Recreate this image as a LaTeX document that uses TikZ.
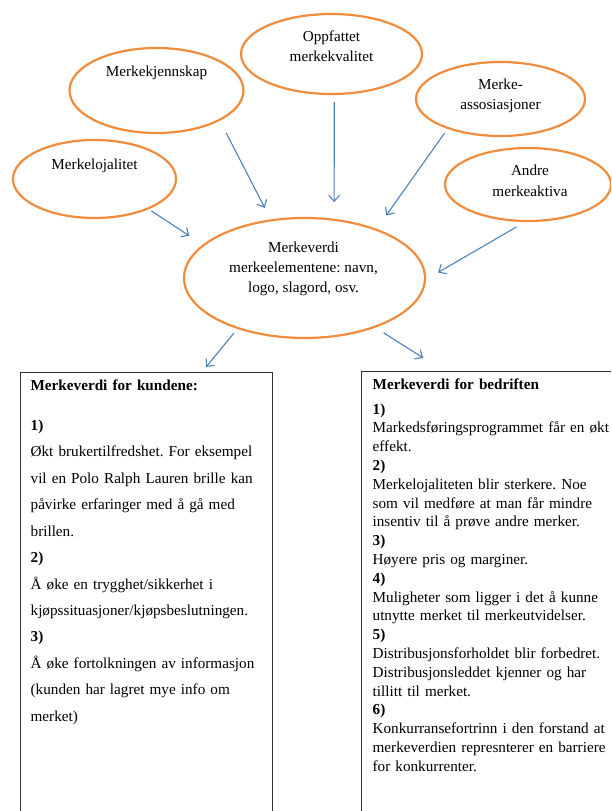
\documentclass[tikz,border=0pt]{standalone}
\usepackage{fontspec}
\setmainfont{Liberation Serif}
\frenchspacing
\usetikzlibrary{shapes.geometric,arrows.meta}
\definecolor{ringorange}{RGB}{240,140,60}
\definecolor{arrowblue}{RGB}{79,129,189}
\tikzset{
  bubble/.style={ellipse, draw=ringorange, line width=2.2pt, inner sep=0pt, outer sep=0pt},
  bubbletext/.style={align=center, font=\fontsize{15.2}{20.3}\selectfont},
  flow/.style={-{Straight Barb[length=6pt,width=11pt]}, draw=arrowblue, line width=1.1pt},
  infobox/.style={draw=black!80, line width=1.3pt, anchor=north west, align=left,
    inner xsep=10pt, inner ysep=7pt, text depth=440pt}
}
\begin{document}
\begin{tikzpicture}[x=1pt, y=-1pt]
  % Page frame, the boxes run off the bottom and the right edge.
  \useasboundingbox (0,0) rectangle (611,811);
  \clip (0,0) rectangle (611,811);
  \fill[white] (0,0) rectangle (611,811);

  % The five brand assets around the centre.
  \node[bubble, minimum width=163pt, minimum height=78pt] (lojal) at (94.5,179) {};
  \node[bubble, minimum width=174pt, minimum height=85pt] (kjenn) at (156.5,90.5) {};
  \node[bubble, minimum width=181pt, minimum height=80pt] (kval) at (331.5,54) {};
  \node[bubble, minimum width=169pt, minimum height=74pt] (assos) at (500.5,99) {};
  \node[bubble, minimum width=166pt, minimum height=73pt] (andre) at (528,184.5) {};
  \node[bubble, minimum width=241pt, minimum height=120pt] (verdi) at (304.5,278) {};

  % Texts sit in the upper part of the ellipses.
  \node[bubbletext] (lojaltxt) at (94.5,166) {Merkelojalitet};
  \node[bubbletext] (kjenntxt) at (156.5,73) {Merkekjennskap};
  \node[bubbletext] (kvaltxt) at (331.5,46.2) {Oppfattet\\merkekvalitet};
  \node[bubbletext] (assostxt) at (500.5,96) {Merke-\\assosiasjoner};
  \node[bubbletext] (andretxt) at (530,180.7) {Andre\\merkeaktiva};
  \node[bubbletext] (verditxt) at (303.5,269) {Merkeverdi\\merkeelementene: navn,\\logo, slagord, osv.};

  % Arrows into the centre ellipse.
  \draw[flow, shorten <=4.3pt, shorten >=17.1pt] (lojal.-29.2) -- (verdi.162.1);
  \draw[flow, shorten <=14.7pt, shorten >=14pt] (kjenn.-25.1) -- (verdi.120.7);
  \draw[flow, shorten <=8pt, shorten >=17.8pt] (kval.-86.4) -- (verdi.63.1);
  \draw[flow, shorten <=6.3pt, shorten >=17.5pt] (assos.-151.3) -- (verdi.34.8);
  \draw[flow, shorten <=11.8pt, shorten >=15.2pt] (andre.-92.8) -- (verdi.-1.3);

  % The two value boxes.
  \node[infobox, text width=232pt, font=\fontsize{15.2}{26.45}\selectfont] (kunde) at (20,372)
    {\textbf{Merkeverdi for kundene:}\\[13.5pt]
     \textbf{1)}\\
     Økt brukertilfredshet. For eksempel\\
     vil en Polo Ralph Lauren brille kan\\
     påvirke erfaringer med å gå med\\
     brillen.\\
     \textbf{2)}\\
     Å øke en trygghet/sikkerhet i\\
     kjøpssituasjoner/kjøpsbeslutningen.\\
     \textbf{3)}\\
     Å øke fortolkningen av informasjon\\
     (kunden har lagret mye info om\\
     merket)};
  \node[infobox, text width=250pt, inner xsep=11pt, font=\fontsize{15.2}{18.8}\selectfont] (bedrift) at (361,371)
    {\textbf{Merkeverdi for bedriften}\\[6pt]
     \textbf{1)}\\
     Markedsføringsprogrammet får en økt\\
     effekt.\\
     \textbf{2)}\\
     Merkelojaliteten blir sterkere. Noe\\
     som vil medføre at man får mindre\\
     insentiv til å prøve andre merker.\\
     \textbf{3)}\\
     Høyere pris og marginer.\\
     \textbf{4)}\\
     Muligheter som ligger i det å kunne\\
     utnytte merket til merkeutvidelser.\\
     \textbf{5)}\\
     Distribusjonsforholdet blir forbedret.\\
     Distribusjonsleddet kjenner og har\\
     tillitt til merket.\\
     \textbf{6)}\\
     Konkurransefortrinn i den forstand at\\
     merkeverdien represnterer en barriere\\
     for konkurrenter.};

  % Arrows down to the boxes.
  \draw[flow, shorten <=6.7pt, shorten >=6.4pt] (verdi.-143.5) -- ([xshift=182pt]kunde.north west);
  \draw[flow, shorten <=11pt, shorten >=24.5pt] (verdi.-35.4) -- ([xshift=82.8pt]bedrift.north west);
\end{tikzpicture}
\end{document}
